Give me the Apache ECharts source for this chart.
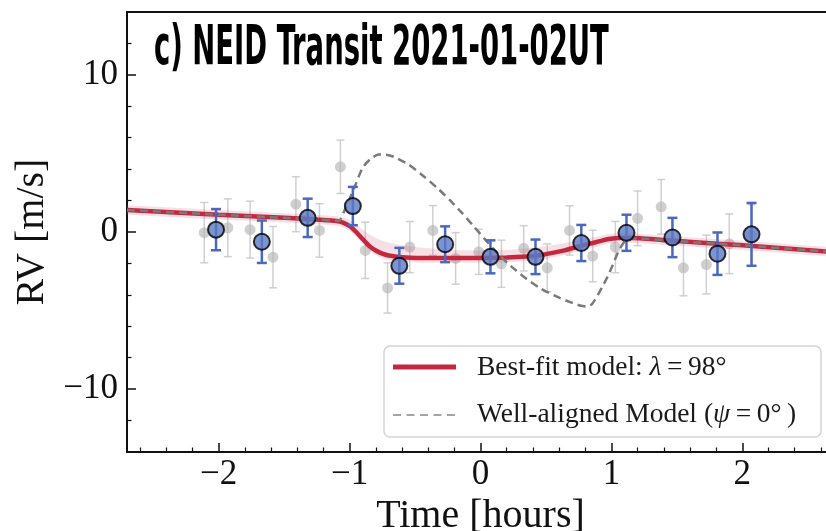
<!DOCTYPE html>
<html>
<head>
<meta charset="utf-8">
<script src="https://cdn.jsdelivr.net/npm/echarts@6/dist/echarts.min.js"></script>
<style>html,body{margin:0;padding:0;background:#fff}#c{width:826px;height:531px}</style>
</head>
<body>
<div id="c"></div>
<script>
// ---- data ----
const grayX = [-2.11,-1.93,-1.76,-1.585,-1.41,-1.23,-1.07,-0.88,-0.71,-0.54,-0.364,-0.19,-0.013,0.16,0.33,0.51,0.68,0.857,1.03,1.20,1.38,1.55,1.725,1.90,2.07];
const grayY = [-0.04,0.27,0.15,-1.6,1.77,0.1,4.15,-1.17,-3.56,-0.96,0.1,-1.68,-1.26,-2.02,-1.04,-2.28,0.1,-1.53,-0.96,0.87,1.6,-2.28,-2.07,-0.75,-0.21];
const grayErr = [1.92,1.84,1.81,1.95,1.75,1.7,1.7,1.79,1.6,1.63,1.58,1.64,1.44,1.5,1.44,1.52,1.57,1.64,1.63,1.74,1.74,1.78,1.87,1.9,1.95];

const binX = [-2.02,-1.67,-1.32,-0.975,-0.62,-0.27,0.076,0.42,0.77,1.115,1.466,1.81,2.07];
const binY = [0.15,-0.62,0.9,1.65,-2.15,-0.78,-1.58,-1.58,-0.7,-0.05,-0.35,-1.38,-0.15];
const binErr = [1.31,1.35,1.22,1.22,1.14,1.14,1.05,1.1,1.15,1.15,1.25,1.35,2.0];

const modelX = [-2.7,-2.0,-1.5,-1.2,-1.1,-1.05,-1.0,-0.95,-0.9,-0.85,-0.8,-0.75,-0.7,-0.6,-0.45,-0.2,0.0,0.2,0.35,0.45,0.55,0.65,0.76,0.88,0.98,1.05,1.12,1.5,2.0,2.7];
const bestY  = [1.4,1.1,0.9,0.77,0.7,0.6,0.38,0.0,-0.45,-0.88,-1.18,-1.38,-1.5,-1.6,-1.65,-1.66,-1.65,-1.62,-1.56,-1.48,-1.33,-1.15,-0.9,-0.65,-0.45,-0.38,-0.37,-0.58,-0.85,-1.28];
const bandHi = [1.7,1.4,1.2,1.07,1.0,0.93,0.78,0.5,0.15,-0.15,-0.38,-0.55,-0.68,-0.85,-1.0,-1.15,-1.2,-1.15,-1.05,-0.95,-0.85,-0.7,-0.5,-0.3,-0.12,-0.08,-0.07,-0.28,-0.55,-0.98];
const bandLo = [1.1,0.8,0.6,0.47,0.4,0.3,0.08,-0.3,-0.75,-1.18,-1.48,-1.68,-1.8,-1.9,-1.95,-1.96,-1.95,-1.92,-1.86,-1.78,-1.63,-1.45,-1.2,-0.95,-0.75,-0.68,-0.67,-0.88,-1.15,-1.58];

const alignX = [-2.7,-2.0,-1.5,-1.15,-1.08,-1.04,-1.0,-0.95,-0.9,-0.84,-0.78,-0.72,-0.66,-0.55,-0.43,-0.33,-0.23,-0.14,-0.05,0.04,0.13,0.23,0.33,0.45,0.58,0.68,0.76,0.81,0.85,0.89,0.93,0.97,1.01,1.05,1.08,1.12,1.2,1.5,2.0,2.7];
const alignY = [1.4,1.1,0.9,0.75,0.72,1.35,2.1,3.1,4.1,4.65,4.93,4.92,4.78,4.3,3.52,2.8,2.0,1.2,0.34,-0.52,-1.36,-2.15,-2.85,-3.55,-4.1,-4.45,-4.68,-4.75,-4.6,-4.1,-3.5,-2.85,-2.1,-1.3,-0.85,-0.45,-0.42,-0.58,-0.85,-1.28];

const xMajor = [-2,-1,0,1,2];
const xMinor = [-2.6,-2.4,-2.2,-1.8,-1.6,-1.4,-1.2,-0.8,-0.6,-0.4,-0.2,0.2,0.4,0.6,0.8,1.2,1.4,1.6,1.8,2.2,2.4,2.6];
const yMajor = [-10,0,10];
const yMinor = [-12,-8,-6,-4,-2,2,4,6,8,12];

const titleText = 'c) NEID Transit 2021-01-02UT';
const legendBest = ['Best-fit model: ', 'λ', '\u2009=\u200998°'];
const legendAlign = ['Well-aligned Model (', 'ψ', '\u2009=\u20090°\u2009)'];

// ---- chart ----
const SERIF = '"Liberation Serif","Times New Roman",serif';
const chart = echarts.init(document.getElementById('c'), null, {renderer:'canvas'});
const minus = v => String(v).replace('-', '\u2212');

function errRender(color, lw, cap) {
  return function (params, api) {
    const x = api.value(0), y = api.value(1), e = api.value(2);
    const t = api.coord([x, y + e]), b = api.coord([x, y - e]);
    const st = {stroke: color, lineWidth: lw};
    return {type:'group', children:[
      {type:'line', shape:{x1:t[0], y1:t[1], x2:b[0], y2:b[1]}, style:st},
      {type:'line', shape:{x1:t[0]-cap, y1:t[1], x2:t[0]+cap, y2:t[1]}, style:st},
      {type:'line', shape:{x1:b[0]-cap, y1:b[1], x2:b[0]+cap, y2:b[1]}, style:st}
    ]};
  };
}
function richLabel(parts){ return '{r|'+parts[0]+'}{i|'+parts[1]+'}{r|'+parts[2]+'}'; }
const legRich = {r:{fontFamily:SERIF, fontSize:27.5, fill:'#1a1a1a'}, i:{fontFamily:SERIF, fontSize:27.5, fontStyle:'italic', fill:'#1a1a1a'}};

const grayData = grayX.map((x,i)=>[x, grayY[i], grayErr[i]]);
const binData = binX.map((x,i)=>[x, binY[i], binErr[i]]);

const option = {
  backgroundColor:'#fff',
  animation:false,
  grid:{left:127, top:12, width:707, height:440, outerBoundsMode:'none', containLabel:false,
        show:true, borderColor:'#111', borderWidth:2, backgroundColor:'transparent'},
  xAxis:[
    {type:'value', min:-2.7, max:2.7, position:'bottom',
     axisLine:{show:true, onZero:false, lineStyle:{color:'#111', width:2}},
     axisTick:{show:true, inside:true, length:9, customValues:xMajor, lineStyle:{color:'#111', width:1.5}},
     axisLabel:{show:true, customValues:xMajor, formatter:minus, margin:5, fontFamily:SERIF, fontSize:35, color:'#111'},
     splitLine:{show:false},
     name:'Time [hours]', nameLocation:'middle', nameGap:37,
     nameTextStyle:{fontFamily:SERIF, fontSize:40, color:'#111'}},
    {type:'value', min:-2.7, max:2.7, position:'bottom',
     axisLine:{show:false, onZero:false},
     axisTick:{show:true, inside:true, length:4.5, customValues:xMinor, lineStyle:{color:'#111', width:1.2}},
     axisLabel:{show:false}, splitLine:{show:false}}
  ],
  yAxis:[
    {type:'value', min:-14, max:14, position:'left',
     axisLine:{show:true, onZero:false, lineStyle:{color:'#111', width:2}},
     axisTick:{show:true, inside:true, length:9, customValues:yMajor, lineStyle:{color:'#111', width:1.5}},
     axisLabel:{show:true, customValues:yMajor, formatter:minus, margin:9, fontFamily:SERIF, fontSize:35, color:'#111'},
     splitLine:{show:false},
     name:'RV [m/s]', nameLocation:'middle', nameGap:72, nameRotate:90,
     nameTextStyle:{fontFamily:SERIF, fontSize:40, color:'#111'}},
    {type:'value', min:-14, max:14, position:'left',
     axisLine:{show:false, onZero:false},
     axisTick:{show:true, inside:true, length:4.5, customValues:yMinor, lineStyle:{color:'#111', width:1.2}},
     axisLabel:{show:false}, splitLine:{show:false}}
  ],
  graphic:[
    {type:'text', x:154, y:49, scaleX:0.545, z:100,
     style:{text:titleText, font:'bold 56px "Liberation Sans Narrow","DejaVu Sans Condensed",sans-serif', fill:'#000',
            textAlign:'left', textVerticalAlign:'middle', align:'left', verticalAlign:'middle'}},
    {type:'group', z:100, children:[
      {type:'rect', shape:{x:384, y:346, width:437, height:91, r:6}, style:{fill:'rgba(255,255,255,0.9)', stroke:'#d4d4d4', lineWidth:1.5}},
      {type:'line', shape:{x1:393, y1:367, x2:456, y2:367}, style:{stroke:'#c3283f', lineWidth:5}},
      {type:'line', shape:{x1:393, y1:415, x2:456, y2:415}, style:{stroke:'#888', lineWidth:1.5, lineDash:[8,5.5]}},
      {type:'text', x:477, y:368, style:{text:richLabel(legendBest), rich:legRich, fontFamily:SERIF, fontSize:27.5,
        textVerticalAlign:'middle', verticalAlign:'middle'}},
      {type:'text', x:477, y:415, style:{text:richLabel(legendAlign), rich:legRich, fontFamily:SERIF, fontSize:27.5,
        textVerticalAlign:'middle', verticalAlign:'middle'}}
    ]}
  ],
  series:[
    {type:'custom', name:'grayErr', z:1, data:grayData, encode:{x:0, y:1},
     renderItem:errRender('rgba(200,200,200,0.85)', 1.5, 4), silent:true},
    {type:'scatter', name:'gray', z:2, data:grayData.map(d=>[d[0],d[1]]), symbolSize:11,
     itemStyle:{color:'rgba(180,180,180,0.8)'}, silent:true},
    {type:'custom', name:'band', z:3, data:[[0,0]], encode:{x:0,y:1}, clip:true, silent:true,
     renderItem:function(params, api){
       const pts = [];
       for (let i=0;i<modelX.length;i++) pts.push(api.coord([modelX[i], bandHi[i]]));
       for (let i=modelX.length-1;i>=0;i--) pts.push(api.coord([modelX[i], bandLo[i]]));
       return {type:'polygon', shape:{points:pts}, style:{fill:'rgba(214,96,128,0.2)'}};
     }},
    {type:'line', name:'best', z:4, data:modelX.map((x,i)=>[x,bestY[i]]), symbol:'none',
     smooth:0.2, lineStyle:{color:'#c3283f', width:4.5}, itemStyle:{color:'#c3283f'}, silent:true},
    {type:'line', name:'aligned', z:5, data:alignX.map((x,i)=>[x,alignY[i]]), symbol:'none',
     smooth:0.2, lineStyle:{color:'#7a7a7a', width:2.5, type:[8,5]}, itemStyle:{color:'#7a7a7a'}, silent:true},
    {type:'custom', name:'binErr', z:6, data:binData, encode:{x:0, y:1},
     renderItem:errRender('#4a68bd', 2.5, 5), silent:true},
    {type:'scatter', name:'bin', z:7, data:binData.map(d=>[d[0],d[1]]), symbolSize:16,
     itemStyle:{color:'#5b79c3', borderColor:'#000', borderWidth:2}, silent:true}
  ]
};
chart.setOption(option);
</script>
</body>
</html>
